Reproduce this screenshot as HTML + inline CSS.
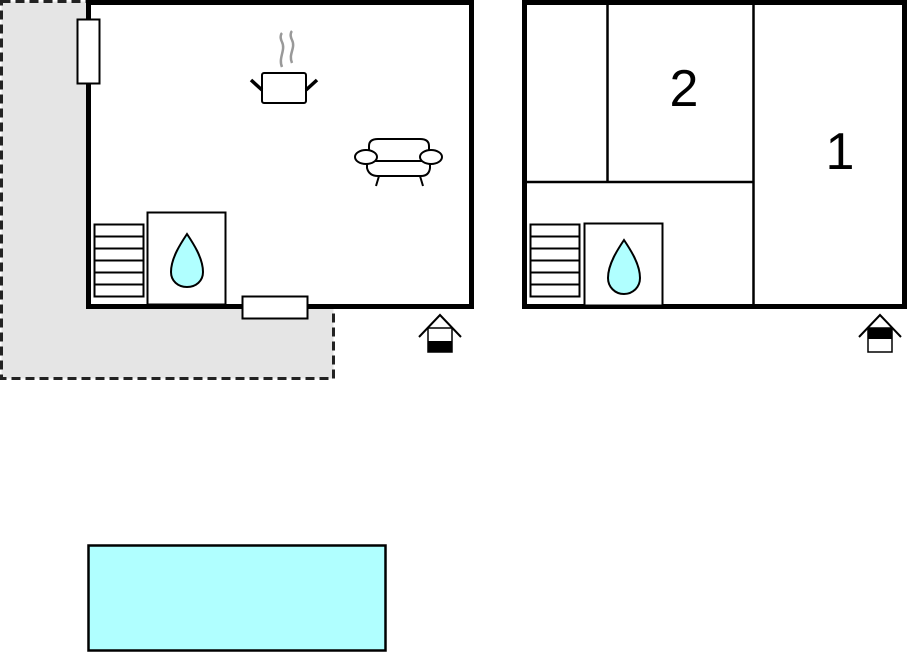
<!DOCTYPE html>
<html><head><style>html,body{margin:0;padding:0;background:#fff;}svg{display:block}</style></head>
<body>
<svg width="911" height="652" viewBox="0 0 911 652" xmlns="http://www.w3.org/2000/svg">
<!-- terrace -->
<path d="M1.5,1.5 H88 V307 H333.5 V378.5 H1.5 Z" fill="#e5e5e5" stroke="#222" stroke-width="3" stroke-dasharray="9,5"/>
<!-- left building -->
<rect x="88.5" y="2.5" width="383" height="304" fill="#fff" stroke="#000" stroke-width="5"/>
<!-- windows -->
<rect x="77.5" y="19.5" width="22" height="64" fill="#fff" stroke="#000" stroke-width="2"/>
<rect x="242.5" y="296.5" width="65" height="22" fill="#fff" stroke="#000" stroke-width="2"/>
<!-- pot -->
<path d="M282,67 C278,58 286,50 282,42 C279,36 282,33 282,33" fill="none" stroke="#999" stroke-width="2.5"/>
<path d="M292,63 C288,54 296,48 292,40 C289,34 292,31 292,31" fill="none" stroke="#999" stroke-width="2.5"/>
<rect x="262" y="73" width="44" height="30" rx="2" fill="#fff" stroke="#000" stroke-width="2"/>
<line x1="251" y1="80" x2="262" y2="90" stroke="#000" stroke-width="3.5"/>
<line x1="317" y1="80" x2="306" y2="90" stroke="#000" stroke-width="3.5"/>
<!-- sofa -->
<g fill="#fff" stroke="#000" stroke-width="2">
<path d="M369,161 V146 Q369,139 378,139 H420 Q429,139 429,146 V161 Z"/>
<path d="M367,161 V168 Q369,176 378,176 H421 Q429,176 430,168 V161 Z"/>
<ellipse cx="366" cy="157" rx="11" ry="7"/>
<ellipse cx="431" cy="157" rx="11" ry="7"/>
<line x1="379" y1="176" x2="376" y2="186"/><line x1="420" y1="176" x2="423" y2="186"/>
</g>
<!-- stairs + bath left -->
<g fill="#fff" stroke="#000" stroke-width="2">
<rect x="94.5" y="224.5" width="49" height="72"/>
<line x1="94" y1="236.5" x2="143" y2="236.5"/><line x1="94" y1="248.5" x2="143" y2="248.5"/>
<line x1="94" y1="260.5" x2="143" y2="260.5"/><line x1="94" y1="272.5" x2="143" y2="272.5"/>
<line x1="94" y1="284.5" x2="143" y2="284.5"/>
<rect x="147.5" y="212.5" width="78" height="92"/>
</g>
<path d="M187,234 C181,243 171,258 171,272 C171,281 178,287 187,287 C196,287 203,281 203,272 C203,258 193,243 187,234 Z" fill="#b0ffff" stroke="#000" stroke-width="2"/>
<!-- entrance icon left -->
<polyline points="419,337 440,315 461,337" fill="none" stroke="#000" stroke-width="2"/>
<rect x="428" y="328" width="24" height="24" fill="#fff" stroke="#000" stroke-width="1.5"/>
<rect x="428" y="341" width="24" height="11" fill="#000"/>
<!-- right building -->
<rect x="524.5" y="2.5" width="380" height="304" fill="#fff" stroke="#000" stroke-width="5"/>
<g stroke="#000" stroke-width="2.5">
<line x1="607.5" y1="4" x2="607.5" y2="182"/>
<line x1="524" y1="182" x2="753" y2="182"/>
<line x1="753.5" y1="4" x2="753.5" y2="306"/>
</g>
<text x="684" y="106" font-family="Liberation Sans, sans-serif" font-size="52" text-anchor="middle">2</text>
<text x="840" y="169" font-family="Liberation Sans, sans-serif" font-size="52" text-anchor="middle">1</text>
<g fill="#fff" stroke="#000" stroke-width="2">
<rect x="530.5" y="224.5" width="49" height="72"/>
<line x1="530" y1="236.5" x2="579" y2="236.5"/><line x1="530" y1="248.5" x2="579" y2="248.5"/>
<line x1="530" y1="260.5" x2="579" y2="260.5"/><line x1="530" y1="272.5" x2="579" y2="272.5"/>
<line x1="530" y1="284.5" x2="579" y2="284.5"/>
<rect x="584.5" y="223.5" width="78" height="82"/>
</g>
<path d="M624,240 C618,249 608,264 608,278 C608,287 615,294 624,294 C633,294 640,287 640,278 C640,264 630,249 624,240 Z" fill="#b0ffff" stroke="#000" stroke-width="2"/>
<!-- entrance icon right -->
<polyline points="859,337 880,315 901,337" fill="none" stroke="#000" stroke-width="2"/>
<rect x="868" y="328" width="24" height="24" fill="#fff" stroke="#000" stroke-width="1.5"/>
<rect x="868" y="328" width="24" height="11" fill="#000"/>
<!-- pool -->
<rect x="88.5" y="545.5" width="297" height="105" fill="#b0ffff" stroke="#000" stroke-width="2.5"/>
</svg>
</body></html>
